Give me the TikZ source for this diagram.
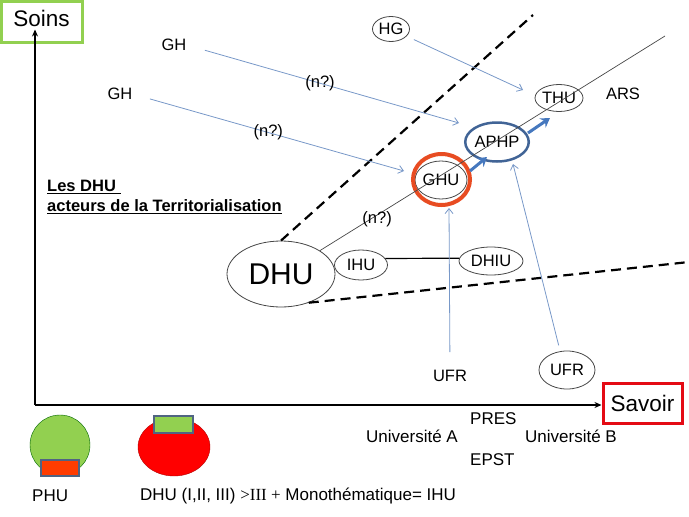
\documentclass[tikz,border=0pt]{standalone}
\usepackage{fontspec}
\setmainfont{Liberation Sans}
\newfontfamily\timesfont{Liberation Serif}
\usepackage{tikz}
\usetikzlibrary{shapes.geometric, arrows.meta, positioning, calc}
\definecolor{soinsgreen}{RGB}{146, 208, 80}
\definecolor{savoirred}{RGB}{228, 10, 20}
\definecolor{linkblue}{RGB}{120, 152, 200}
\definecolor{pushblue}{RGB}{70, 120, 190}
\definecolor{aphpblue}{RGB}{65, 100, 150}
\definecolor{ghuorange}{RGB}{232, 76, 34}
\definecolor{edgegray}{RGB}{70, 70, 70}
\definecolor{rectedge}{RGB}{80, 100, 130}
\definecolor{rectorange}{RGB}{255, 60, 0}

\begin{document}
\begin{tikzpicture}[x=1pt, y=-1pt,
    txt/.style={font=\fontsize{16.5}{19}\selectfont, inner sep=0pt},
    legend/.style={font=\fontsize{17}{20}\selectfont, inner sep=0pt},
    title/.style={font=\fontsize{16.5}{20}\selectfont\bfseries, inner sep=0pt, anchor=west},
    oval/.style 2 args={txt, draw=edgegray, line width=0.8pt, ellipse, minimum width=#1, minimum height=#2},
    axisbox/.style={font=\fontsize{22.5}{26}\selectfont, line width=3pt, inner sep=0pt},
    axisline/.style={line width=1.8pt, -{Stealth[length=7pt, width=6pt]}},
    linkarrow/.style={draw=linkblue, line width=0.8pt, -{Straight Barb[length=5pt, width=8pt]}},
    pusharrow/.style={draw=pushblue, line width=3pt, -{Stealth[length=9pt, width=11pt, inset=3pt]}},
    divider/.style={line width=2.2pt, dash pattern=on 10pt off 6pt},
    diagline/.style={draw=edgegray, line width=0.7pt}]
    \useasboundingbox (0,0) rectangle (689,517);

    % Axes
    \node[axisbox, draw=soinsgreen, minimum width=81pt, minimum height=41pt, text depth=6pt] (soins) at (41.5,21.5) {Soins\hspace{12pt}};
    \node[axisbox, draw=savoirred, minimum width=79pt, minimum height=40pt] (savoir) at (642.5,403) {Savoir};
    \coordinate (origin) at (35,405);
    \draw[axisline, shorten >=-14pt] (origin) -- (origin |- soins.south);
    \draw[axisline] (origin) -- (origin -| savoir.west);

    % Title
    \node[title] (les) at (47,187) {\underline{Les DHU\ }};
    \node[title] (acteurs) at (47,207) {\underline{acteurs de la Territorialisation}};

    % Actors
    \node[txt] (gh1) at (174,45) {GH};
    \node[txt] (gh2) at (120,94) {GH};
    \node[oval={37pt}{25pt}] (hg) at (391,29) {HG};
    \node[oval={48pt}{27pt}] (thu) at (559,98) {THU};
    \node[txt] (ars) at (623,94) {ARS};
    \node[oval={56pt}{39pt}, draw=aphpblue, line width=2.5pt] (aphp) at (497,142) {APHP};
    \node[oval={52pt}{38pt}] (ghu) at (441,180) {GHU};
    \node[draw=ghuorange, line width=4pt, ellipse, inner sep=0pt, minimum width=57pt, minimum height=51pt] (ghuring) at (441.5,179.5) {};
    \node[oval={108pt}{66pt}, font=\fontsize{30}{34}\selectfont] (dhu) at (281,274) {DHU};
    \node[oval={53pt}{30pt}] (ihu) at (361,265) {IHU};
    \node[oval={64pt}{28pt}] (dhiu) at (491,261) {DHIU};
    \node[txt] (ufr1) at (450,376) {UFR};
    \node[oval={56pt}{38pt}] (ufr2) at (567,370) {UFR};

    % Free ends
    \coordinate (gh1tip) at (459,123);
    \coordinate (gh2tip) at (404,171);
    \coordinate (hgtip) at (523,90);
    \coordinate (ufr1tip) at (449,208);
    \coordinate (ufr2tip) at (513,164);
    \coordinate (diagend) at (665,36);
    \coordinate (dashtop) at (533,15);
    \coordinate (dashright) at (689,262);

    % Zones
    \draw[divider] (dhu.north) -- (dashtop);
    \draw[divider] (dhu.-46) -- (dashright);
    \draw[diagline] (dhu.31) -- (diagend) node[txt, pos=0.166, yshift=-4pt] {(n?)};
    \draw[line width=1.2pt] (ihu.15) -- (dhiu.175);

    % Links
    \draw[linkarrow, shorten <=19pt] (gh1.east) -- (gh1tip) node[txt, pos=0.49] {(n?)};
    \draw[linkarrow, shorten <=18pt] (gh2.east) -- (gh2tip) node[txt, pos=0.5] {(n?)};
    \draw[linkarrow, shorten <=8pt] (hg) -- (hgtip);
    \draw[linkarrow, shorten <=18pt] (ufr1.north) -- (ufr1tip);
    \draw[linkarrow, shorten <=6pt] (ufr2.110) -- (ufr2tip);
    \draw[pusharrow] ([shift={(29,-9)}]ghu.center) -- ([shift={(-10,15)}]aphp.center);
    \draw[pusharrow] ([shift={(31,-9)}]aphp.center) -- ([shift={(-9,20)}]thu.center);

    % Legend
    \node[draw=green!40!black, fill=soinsgreen, ellipse, inner sep=0pt, minimum width=60pt, minimum height=60pt] (phuicon) at (60,445) {};
    \node[draw=rectedge, line width=1.5pt, fill=rectorange, inner sep=0pt, minimum width=38pt, minimum height=16pt] (phurect) at (60,468) {};
    \node[draw=red!70!black, fill=red, ellipse, inner sep=0pt, minimum width=72pt, minimum height=58pt] (dhuicon) at (174,447) {};
    \node[draw=rectedge, line width=1.5pt, fill=soinsgreen, inner sep=0pt, minimum width=39pt, minimum height=17pt] (dhurect) at (173.5,424.5) {};
    \node[legend, anchor=west] (phulbl) at (32,496) {PHU};
    \node[legend, anchor=west] (dhulbl) at (140,496) {DHU (I,II, III) {\timesfont >III +} Monothématique= IHU};
    \node[legend, anchor=west] (pres) at (470,419) {PRES};
    \node[legend, anchor=east] (univa) at (458,436) {Université A};
    \node[legend, anchor=west] (univb) at (525,436) {Université B};
    \node[legend, anchor=west] (epst) at (470,460) {EPST};
\end{tikzpicture}
\end{document}
